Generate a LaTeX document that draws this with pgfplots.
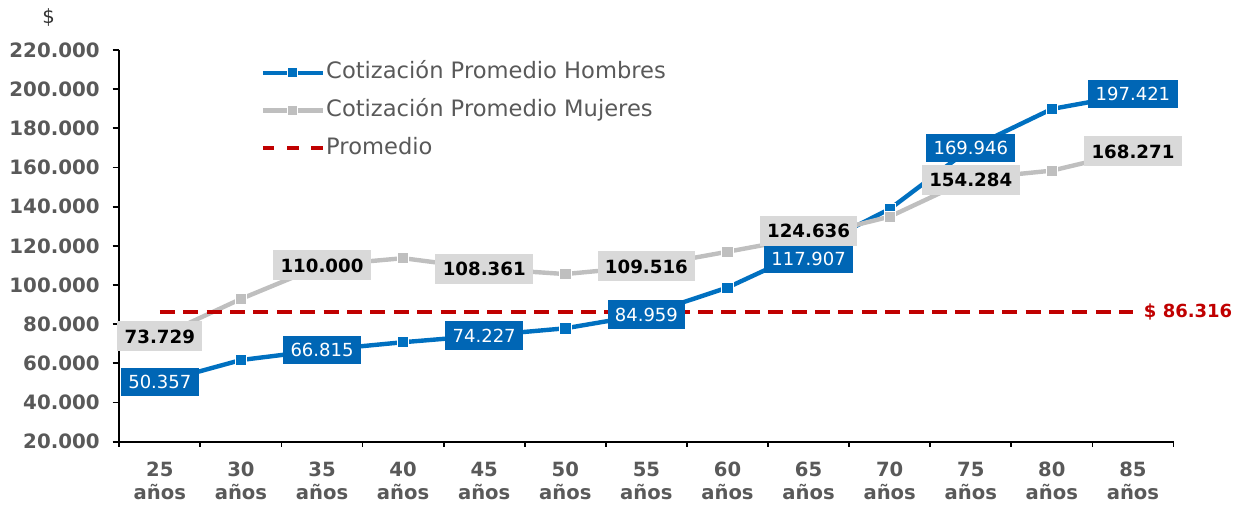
\documentclass[border=0pt]{standalone}
\usepackage{pgfplots}
\pgfplotsset{compat=1.18}
\usepackage{pgfplotstable}
\usepackage{fontspec}
\setmainfont{DejaVu Sans}
\definecolor{hblue}{HTML}{0070C0}
\definecolor{hboxblue}{HTML}{0066B5}
\definecolor{mgray}{HTML}{BFBFBF}
\definecolor{mboxgray}{HTML}{D9D9D9}
\definecolor{pred}{HTML}{C00000}
\definecolor{tickgray}{HTML}{595959}

\pgfplotsset{
  marklegend/.style={legend image code/.code={\draw[mark repeat=2,mark phase=2,##1, mark size=2.5pt] plot coordinates {(0pt,0pt) (15pt,0pt) (30pt,0pt)};}},
  dashlegend/.style={legend image code/.code={\draw[##1, dash pattern=on 5.8pt off 6.3pt] (0pt,0pt) -- (30pt,0pt);}},
}

\pgfplotstableread{
x y
0 50357
1 61700
2 66815
3 70800
4 74227
5 77900
6 84959
7 98700
8 117907
9 138800
10 169946
11 189900
12 197421
}\hombres

\pgfplotstableread{
x y
0 73729
1 92900
2 110000
3 113700
4 108361
5 105600
6 109516
7 117000
8 124636
9 134900
10 154284
11 158400
12 168271
}\mujeres

\pgfplotstableread{
x y lab dy
0 50357 50.357 0
2 66815 66.815 0
4 74227 74.227 0
6 84959 84.959 0
8 117907 117.907 -4.6
10 169946 169.946 0
12 197421 197.421 0
}\hlab

\pgfplotstableread{
x y lab dy
0 73729 73.729 0
2 110000 110.000 0
4 108361 108.361 0
6 109516 109.516 0
8 124636 124.636 3
10 154284 154.284 -0.5
12 168271 168.271 0
}\mlab

\begin{document}
\begin{tikzpicture}
\begin{axis}[
  at={(0pt,0pt)}, anchor=south west,
  scale only axis, width=527.1pt, height=195.85pt,
  xmin=-0.5, xmax=12.5, ymin=20000, ymax=220000,
  axis x line*=bottom, axis y line*=left,
  axis line style={black, line width=0.9pt, -},
  tick align=outside,
  xtick={0,...,12},
  xticklabels={25\\años,30\\años,35\\años,40\\años,45\\años,50\\años,55\\años,60\\años,65\\años,70\\años,75\\años,80\\años,85\\años},
  major x tick style={draw=none},
  minor xtick={-0.5,0.5,...,12.5},
  minor x tick style={black, line width=0.9pt},
  minor tick length=2.5pt,
  major tick length=3.3pt,
  ytick={20000,40000,...,220000},
  ytick style={black, line width=0.9pt},
  scaled y ticks=false,
  yticklabel style={font=\fontsize{9.9}{12}\selectfont\bfseries, text=tickgray, xshift=-3pt,
    /pgf/number format/.cd, fixed, 1000 sep={.}, assume math mode=true},
  xticklabel style={font=\fontsize{9.8}{11.5}\selectfont\bfseries, text=tickgray, align=center, yshift=-3.5pt},
  legend style={at={(0.1337,1)}, anchor=north west, yshift=-5.65pt, draw=none, fill=none,
    inner sep=0pt, row sep=7.85pt, column sep=0.6pt,
    nodes={inner sep=0pt, text=tickgray, font=\fontsize{11.3}{13}\selectfont, text height=8.5pt, text depth=2.5pt}},
  legend cell align=left,
  clip=false,
]
\addplot[hblue, line width=2.2pt, mark=square*, mark size=2.8pt,
  mark options={fill=hblue, draw=white, line width=0.4pt}, marklegend]
  table[x=x,y=y] {\hombres};
\addlegendentry{Cotización Promedio Hombres}
\addplot[mgray, line width=2.2pt, mark=square*, mark size=2.8pt,
  mark options={fill=mgray, draw=white, line width=0.4pt}, marklegend]
  table[x=x,y=y] {\mujeres};
\addlegendentry{Cotización Promedio Mujeres}
\addplot[pred, line width=2pt, dash pattern=on 7.5pt off 4.2pt, dashlegend]
  coordinates {(0,86316) (12,86316)};
\addlegendentry{Promedio}

\addplot[forget plot, draw=none, mark=none, nodes near coords, point meta=explicit symbolic,
  visualization depends on={\thisrow{dy} \as \dy},
  every node near coord/.append style={anchor=center, yshift=\dy pt, fill=hboxblue, text=white,
    font=\fontsize{9}{11}\selectfont, inner xsep=3.7pt, inner ysep=0pt, minimum height=14.2pt,
    text height=6.6pt, text depth=0pt}]
  table[x=x,y=y,meta=lab] {\hlab};
\addplot[forget plot, draw=none, mark=none, nodes near coords, point meta=explicit symbolic,
  visualization depends on={\thisrow{dy} \as \dy},
  every node near coord/.append style={anchor=center, yshift=\dy pt, fill=mboxgray, text=black,
    font=\fontsize{9.1}{11}\selectfont\bfseries, inner xsep=3.7pt, inner ysep=0pt, minimum height=15pt,
    text height=6.7pt, text depth=0pt}]
  table[x=x,y=y,meta=lab] {\mlab};
\addplot[forget plot, draw=none, mark=none, nodes near coords, point meta=explicit symbolic,
  every node near coord/.append style={anchor=west, xshift=5.3pt, text=pred,
    font=\fontsize{9}{11}\selectfont\bfseries, inner sep=0pt}]
  coordinates {(12,86316) [\$ 86.316]};
\end{axis}
\node[anchor=center, inner sep=0pt, font=\fontsize{9.8}{11}\selectfont, text=black!80] at (-35.3pt,212pt) {\$};
\pgfresetboundingbox
\path[use as bounding box] (-59.65pt,-31.15pt) rectangle (561.35pt,220.85pt);
\end{tikzpicture}
\end{document}
